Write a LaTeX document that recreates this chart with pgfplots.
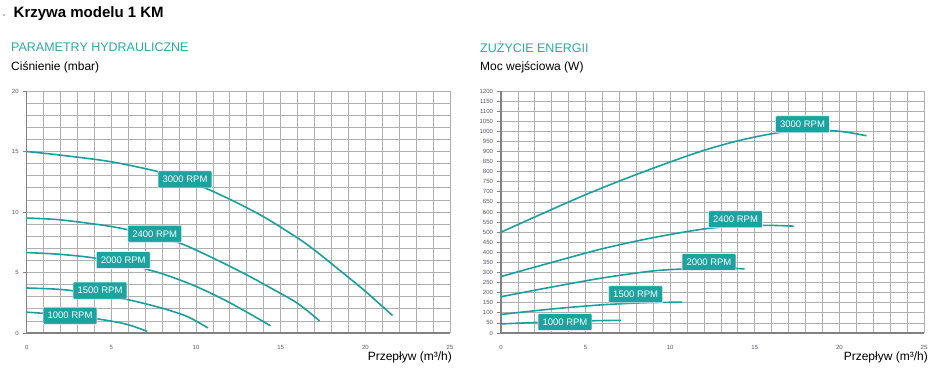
\documentclass[border=0pt]{standalone}
\usepackage{fontspec}
\setmainfont{Liberation Sans}
\usepackage{pgfplots}
\pgfplotsset{compat=1.18}
\definecolor{teal1}{RGB}{24,160,158}
\definecolor{tealbox}{RGB}{27,163,159}
\definecolor{tealtitle}{RGB}{44,168,166}
\definecolor{gridc}{RGB}{175,175,175}
\definecolor{axc}{RGB}{130,130,130}
\definecolor{tickc}{RGB}{85,85,100}
\pgfplotsset{
  pumpaxis/.style={
    scale only axis, anchor=south west,
    xmin=0, xmax=25, xtick={0,5,...,25}, minor x tick num=4,
    grid=both,
    major grid style={gridc, line width=0.8pt},
    minor grid style={gridc, line width=0.8pt},
    axis line style={axc, line width=1.2pt},
    axis x line*=bottom, axis y line*=left,
    tick style={axc, line width=0.8pt},
    major tick length=4pt, minor tick length=0pt,
    xtick style={draw=none},
    tick align=outside,
    /pgf/number format/assume math mode=true,
    /pgf/number format/1000 sep={},
    tick label style={font=\fontsize{6}{6.5}\selectfont, color=tickc},
    xticklabel style={yshift=-5pt},
    yticklabel style={xshift=-0.5pt},
    every axis plot post/.append style={teal1, line width=1.6pt, smooth, mark=none},
    clip=false,
  },
}
\tikzset{
  rpm/.style={fill=tealbox, draw=white!85!tealbox, line width=0.6pt, rounded corners=1pt,
    text=white, font=\fontsize{9.5}{10}\selectfont, inner xsep=4.5pt, minimum height=17pt, inner ysep=0pt},
}
\begin{document}
\begin{tikzpicture}[x=1pt,y=1pt]
\useasboundingbox (0,0) rectangle (947,376);
% titles
\fill[tealtitle] (4,361) circle (0.9);
\node[anchor=west, inner sep=0, font=\fontsize{15}{17}\selectfont\bfseries] at (13.5,362.5) {Krzywa modelu 1 KM};
\node[anchor=west, inner sep=0, text=tealtitle, font=\fontsize{12.5}{14}\selectfont] at (11,329) {PARAMETRY HYDRAULICZNE};
\node[anchor=west, inner sep=0, font=\fontsize{12}{14}\selectfont] at (11,309) {Ciśnienie (mbar)};
\node[anchor=west, inner sep=0, text=tealtitle, font=\fontsize{12.5}{14}\selectfont] at (480,329) {ZUŻYCIE ENERGII};
\node[anchor=west, inner sep=0, font=\fontsize{12}{14}\selectfont] at (480,309) {Moc wejściowa (W)};
\node[anchor=east, inner sep=0, font=\fontsize{12}{14}\selectfont] at (452,19) {Przepływ (m³/h)};
\node[anchor=east, inner sep=0, font=\fontsize{12}{14}\selectfont] at (928,19) {Przepływ (m³/h)};

% left axis: pressure (mbar)
\begin{axis}[pumpaxis, at={(26.7pt,43pt)}, width=423.3pt, height=242pt,
  ymin=0, ymax=20, ytick={0,5,...,20}, minor y tick num=4]
\addplot coordinates {(0,15) (2,14.7) (5,14.15) (8,13.25) (10,12.3) (12,11.05) (14,9.6) (16,7.85) (17,6.85) (19,4.6) (20,3.45) (21.6,1.45)};
\addplot coordinates {(0,9.5) (2,9.35) (5,8.8) (7,8.2) (9,7.45) (11,6.2) (13,4.8) (14.5,3.65) (16,2.45) (17.3,1.0)};
\addplot coordinates {(0,6.65) (2,6.5) (4,6.2) (6,5.65) (8,4.9) (10,3.85) (12,2.5) (14.4,0.6)};
\addplot coordinates {(0,3.72) (2,3.6) (4,3.25) (6,2.75) (8,2.05) (9.5,1.35) (10.7,0.42)};
\addplot coordinates {(0,1.72) (2,1.52) (4,1.2) (5.5,0.85) (6.3,0.55) (7.1,0.15)};
\node[rpm] at (axis cs:9.35,12.7) {3000 RPM};
\node[rpm] at (axis cs:7.56,8.2) {2400 RPM};
\node[rpm] at (axis cs:5.7,6.03) {2000 RPM};
\node[rpm] at (axis cs:4.33,3.5) {1500 RPM};
\node[rpm] at (axis cs:2.56,1.43) {1000 RPM};
\end{axis}

% right axis: input power (W)
\begin{axis}[pumpaxis, at={(501pt,43pt)}, width=423pt, height=242pt,
  ymin=0, ymax=1200, ytick={0,50,...,1200}]
\addplot coordinates {(0,500) (2.5,594) (5,686) (7.5,770) (10,848) (12,906) (14,953) (16,988) (17.5,1002) (19.5,1003) (20.5,995) (21.6,978)};
\addplot coordinates {(0,280) (3,350) (6,418) (9,473) (12,516) (14,530) (15.7,534) (17.3,530)};
\addplot coordinates {(0,180) (3,228) (6,273) (9,308) (11,318) (13,322) (14.4,318)};
\addplot coordinates {(0,92) (3,119) (6,140) (8.5,150) (10.7,153)};
\addplot coordinates {(0,45) (2,52) (5,60) (7.1,63)};
\node[rpm] at (axis cs:17.82,1035) {3000 RPM};
\node[rpm] at (axis cs:13.86,564) {2400 RPM};
\node[rpm] at (axis cs:12.29,352) {2000 RPM};
\node[rpm] at (axis cs:7.96,192) {1500 RPM};
\node[rpm] at (axis cs:3.78,54.5) {1000 RPM};
\end{axis}
\end{tikzpicture}
\end{document}
